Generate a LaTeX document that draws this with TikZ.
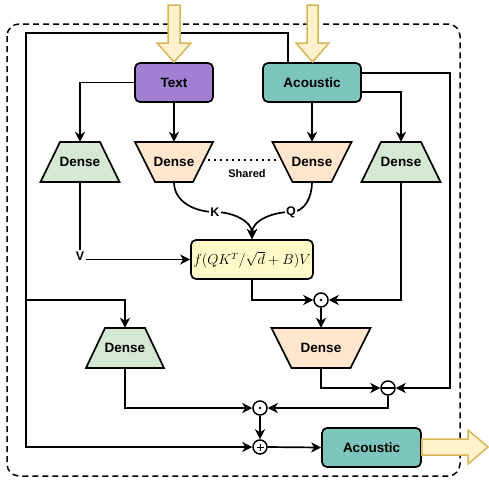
\documentclass[tikz,border=0pt]{standalone}
\usepackage{fontspec}
\setmainfont{Liberation Sans}
\usetikzlibrary{arrows.meta,calc}
\definecolor{purp}{RGB}{161,127,210}
\definecolor{teal2}{RGB}{125,196,188}
\definecolor{greenf}{HTML}{D5E8D4}
\definecolor{orangef}{HTML}{FFE6CC}
\definecolor{formf}{RGB}{255,250,200}
\definecolor{yelf}{HTML}{FFF2CC}
\definecolor{yeld}{HTML}{D6B656}
\tikzset{
  arr/.style={line width=1.7pt, -{Stealth[length=10pt,width=10pt,inset=3pt]}},
  box/.style={rounded corners=5pt, draw, line width=1.7pt, minimum height=39pt, inner sep=0pt, font=\fontsize{13.5}{16}\selectfont\bfseries},
  dtext/.style={inner sep=0pt, minimum height=40pt, minimum width=30pt, font=\fontsize{13.5}{16}\selectfont\bfseries},
  lbl/.style={fill=white, inner sep=1pt, font=\fontsize{12.5}{14}\selectfont\bfseries},
  circ/.style={circle, draw, fill=white, minimum size=14pt, inner sep=0pt, line width=1.5pt},
  bigarrow/.style={fill=yelf, draw=yeld, line width=1.5pt, line join=miter},
  shared/.style={line width=1.3pt, dash pattern=on 1.5pt off 4.5pt},
}
\newcommand{\trapnode}[6]{%
  \filldraw[fill=#6, line width=1.7pt, line join=miter] (#2-#4,#3-20) -- (#2+#4,#3-20) -- (#2+#5,#3+20) -- (#2-#5,#3+20) -- cycle;
  \node[dtext] (#1) at (#2,#3) {Dense};
}
\begin{document}
\begin{tikzpicture}[x=1pt,y=-1pt]
\useasboundingbox (0,0) rectangle (489,479);
% outer dashed frame
\draw[line width=1.5pt, dash pattern=on 6pt off 4pt, rounded corners=12pt] (7,24) rectangle (460,476);

% boxes
\node[box, fill=purp, minimum width=78pt] (tx) at (174,82.5) {Text};
\node[box, fill=teal2, minimum width=98pt] (ac) at (312,82.5) {Acoustic};
\trapnode{gl}{80}{162}{20}{39.5}{greenf}
\trapnode{ol}{174}{162}{39}{19}{orangef}
\trapnode{or}{312}{162}{39.5}{19.5}{orangef}
\trapnode{gr}{401}{162}{20}{39.5}{greenf}
\node[box, fill=formf, minimum width=122pt, font=\fontsize{13.5}{16}\selectfont] (fm) at (252,259.5) {$f(QK^T/\sqrt{d}+B)V$};
\node[circ] (d1) at (321,300) {};
\fill (d1.center) circle (1.4pt);
\trapnode{ob}{321}{348}{49.5}{29.5}{orangef}
\node[circ] (mn) at (388,388) {};
\draw[line width=1.4pt] ([xshift=-6pt]mn.center) -- ([xshift=6pt]mn.center);
\trapnode{gb}{125}{348}{20}{39}{greenf}
\node[circ] (d2) at (260,408) {};
\fill (d2.center) circle (1.4pt);
\node[circ] (pl) at (260,447) {};
\draw[line width=1pt] ([xshift=-3.5pt]pl.center) -- ([xshift=3.5pt]pl.center);
\draw[line width=1pt] ([yshift=-3.5pt]pl.center) -- ([yshift=3.5pt]pl.center);
\node[box, fill=teal2, minimum width=99pt] (acb) at (371.5,447.5) {Acoustic};

% coordinates
\coordinate (tl) at (26,33);
\coordinate (br) at (26,300);
\coordinate (rt) at (450,73);
\coordinate (kp) at (215,212);
\coordinate (qp) at (291,212);
\coordinate (vp) at (80,260);
\coordinate (s1) at (208,160);
\coordinate (s2) at (277,160);

% connectors
\draw[arr] (tx.west) -| (gl.north);
\draw[arr] (tx.south) -- (ol.north);
\draw[arr] (ac.south) -- (or.north);
\draw[arr] ([yshift=-9.5pt]ac.east) -| (gr.north);
\draw[arr] ([yshift=9.5pt]ac.east) -- (rt) |- (mn.east);
\draw[arr] ([xshift=-24pt]ac.north) |- (tl) |- (pl.west);
\draw[arr] (br) -| (gb.north);
\draw[shared] (s1) -- (s2);
\node[font=\fontsize{11}{13}\selectfont\bfseries, inner sep=0pt] (sh) at (247,174) {Shared};
\draw[arr] (ol.south) to[out=-90,in=180] (kp) to[out=0,in=90] (fm.north);
\draw[arr] (or.south) to[out=-90,in=0] (qp) to[out=180,in=90] (fm.north);
\node[lbl] at (kp) {K};
\node[lbl] at (qp) {Q};
\draw[arr] (gl.south) |- (fm.west);
\node[lbl, inner sep=2pt] at ([yshift=4pt]vp) {V};
\draw[arr] (fm.south) |- (d1.west);
\draw[arr] (gr.south) |- (d1.east);
\draw[arr] (d1.south) -- (ob.north);
\draw[arr] (ob.south) |- (mn.west);
\draw[arr] (mn.south) |- (d2.east);
\draw[arr] (gb.south) |- (d2.west);
\draw[arr] (d2.south) -- (pl.north);
\draw[arr] (pl.east) -- (acb.west);

% big arrows
\draw[bigarrow] (168,5) -- (180,5) -- (180,43) -- (191,43) -- (174,62) -- (157,43) -- (168,43) -- cycle;
\draw[bigarrow] (307,5) -- (318,5) -- (318,43) -- (329,43) -- (312.5,62) -- (296,43) -- (307,43) -- cycle;
\draw[bigarrow] (acb.east |- 0,439) -- (468,439) -- (468,430) -- (488,447) -- (468,464) -- (468,455) -- (acb.east |- 0,455) -- cycle;
\end{tikzpicture}
\end{document}
